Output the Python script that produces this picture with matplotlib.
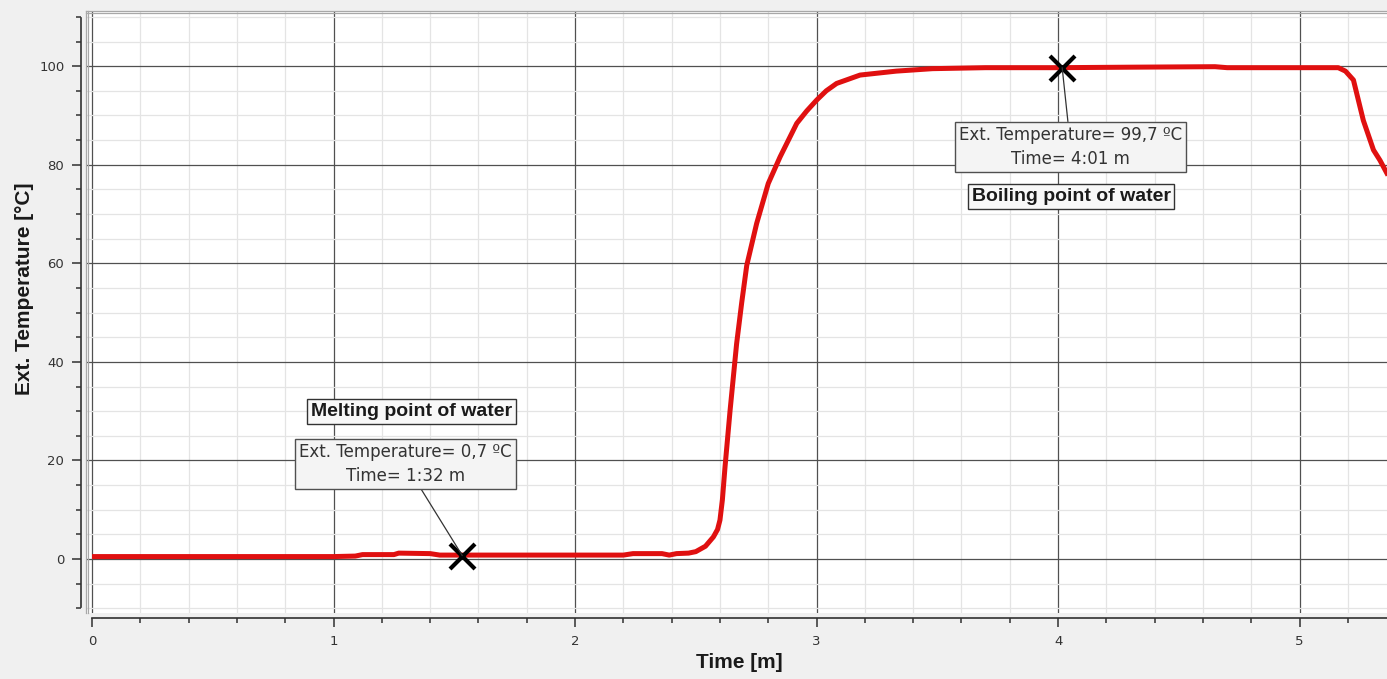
import matplotlib
matplotlib.use("Agg")
import matplotlib.pyplot as plt
from matplotlib.ticker import MultipleLocator
from matplotlib.lines import Line2D
import matplotlib.transforms as mtransforms

# ---- data ----
time_min = [0.0, 0.5, 1.0, 1.09, 1.12, 1.25, 1.27, 1.40, 1.44, 1.6, 1.8, 2.0,
            2.2, 2.24, 2.36, 2.39, 2.42, 2.47, 2.50, 2.54, 2.573, 2.59, 2.60,
            2.61, 2.621, 2.642, 2.669, 2.69, 2.711, 2.752, 2.80, 2.849, 2.918,
            2.959, 3.00, 3.04, 3.083, 3.18, 3.33, 3.48, 3.7, 4.0, 4.3, 4.65, 4.7,
            5.0, 5.16, 5.19, 5.223, 5.264, 5.306, 5.333, 5.37]
temp_c = [0.5, 0.5, 0.5, 0.6, 0.9, 0.9, 1.2, 1.1, 0.8, 0.8, 0.8, 0.8,
          0.8, 1.1, 1.1, 0.8, 1.1, 1.2, 1.5, 2.6, 4.5, 6.0, 7.9,
          12.0, 18.7, 30.2, 43.7, 52.0, 59.6, 68.1, 76.2, 81.6, 88.4,
          90.9, 93.1, 95.0, 96.5, 98.2, 99.0, 99.5, 99.7, 99.7, 99.8, 99.9, 99.7,
          99.7, 99.7, 99.0, 97.2, 89.0, 83.0, 80.9, 77.5]

marker_times = [1.533, 4.017]
marker_temps = [0.7, 99.7]
info_texts = ["Ext. Temperature= 0,7 ºC\nTime= 1:32 m",
              "Ext. Temperature= 99,7 ºC\nTime= 4:01 m"]
info_pos = [(1.298, 19.3), (4.052, 83.6)]
label_texts = ["Melting point of water", "Boiling point of water"]
label_pos = [(1.321, 30.0), (4.054, 73.6)]

x_major = [0, 1, 2, 3, 4, 5]
y_major = [0, 20, 40, 60, 80, 100]

W, H = 1387, 679
fig = plt.figure(figsize=(W / 100, H / 100), dpi=100)
fig.patch.set_facecolor("#f0f0f0")

ax = fig.add_axes([86 / W, (H - 613) / H, (W - 86) / W, (613 - 11) / H])
ax.set_facecolor("white")
ax.set_xlim(-0.025, 5.362)
ax.set_ylim(-10.95, 111.2)

ax.set_xticks(x_major)
ax.set_yticks(y_major)
ax.xaxis.set_minor_locator(MultipleLocator(0.2))
ax.yaxis.set_minor_locator(MultipleLocator(5))

ax.grid(which="minor", color="#e4e4e4", linewidth=0.9, zorder=0)
ax.grid(which="major", color="#505050", linewidth=0.9, zorder=0.5)
ax.set_axisbelow(True)

for s in ["top", "right"]:
    ax.spines[s].set_visible(False)
ax.spines["left"].set_position(("outward", 3.6))
ax.spines["bottom"].set_position(("outward", 3.6))
ax.spines["left"].set_bounds(-9.7, 109.7)
ax.spines["bottom"].set_bounds(0, 5.362)
for s in ["left", "bottom"]:
    ax.spines[s].set_color("#303030")
    ax.spines[s].set_linewidth(1.2)

ax.tick_params(which="major", length=6.5, width=1.1, color="#303030",
               labelsize=9.5, labelcolor="#333333")
ax.tick_params(which="minor", length=3.6, width=1.1, color="#303030")
ax.tick_params(axis="y", which="major", pad=5.5)
ax.tick_params(axis="x", which="major", pad=5.5)

# plot area double border (left and top)
for dx in (0, 2):
    off = mtransforms.offset_copy(ax.transAxes, fig=fig, x=dx * 0.72, y=0, units="points")
    ax.add_line(Line2D([0, 0], [0, 1], transform=off, color="#a8a8a8",
                       linewidth=0.9, clip_on=False, zorder=3))
for dy in (0, -2):
    off = mtransforms.offset_copy(ax.transAxes, fig=fig, x=0, y=dy * 0.72, units="points")
    ax.add_line(Line2D([0, 1], [1, 1], transform=off, color="#a8a8a8",
                       linewidth=0.9, clip_on=False, zorder=3))

ax.plot(time_min, temp_c, color="#e01010", linewidth=3.6, zorder=4,
        solid_capstyle="butt", solid_joinstyle="round")
ax.plot(marker_times, marker_temps, linestyle="none", marker="x",
        markersize=18, markeredgewidth=3, color="black", zorder=6, clip_on=False)

for (mx, my), txt, pos in zip(zip(marker_times, marker_temps), info_texts, info_pos):
    ax.annotate(txt, xy=(mx, my), xytext=pos, ha="center", va="center",
                fontsize=12, family="DejaVu Sans", color="#333333",
                linespacing=1.4, zorder=7,
                bbox=dict(boxstyle="square,pad=0.25", facecolor="#f4f4f4",
                          edgecolor="#505050", linewidth=1.0),
                arrowprops=dict(arrowstyle="-", color="#333333", linewidth=0.9,
                                shrinkA=0, shrinkB=0))

for txt, pos in zip(label_texts, label_pos):
    ax.text(pos[0], pos[1], txt, ha="center", va="center", fontsize=14,
            family="Liberation Sans", fontweight="bold", color="#1a1a1a", zorder=7,
            bbox=dict(boxstyle="square,pad=0.2", facecolor="#f8f8f8",
                      edgecolor="#333333", linewidth=1.0))

fig.text(739 / W, 1 - 663 / H, "Time [m]", ha="center", va="center",
         fontsize=15, family="Liberation Sans", fontweight="bold", color="#1a1a1a")
fig.text(25 / W, 1 - 289 / H, "Ext. Temperature [°C]", ha="center", va="center",
         rotation=90, fontsize=15, family="Liberation Sans", fontweight="bold",
         color="#1a1a1a")

fig.savefig("out.png", dpi=100, facecolor=fig.get_facecolor())
